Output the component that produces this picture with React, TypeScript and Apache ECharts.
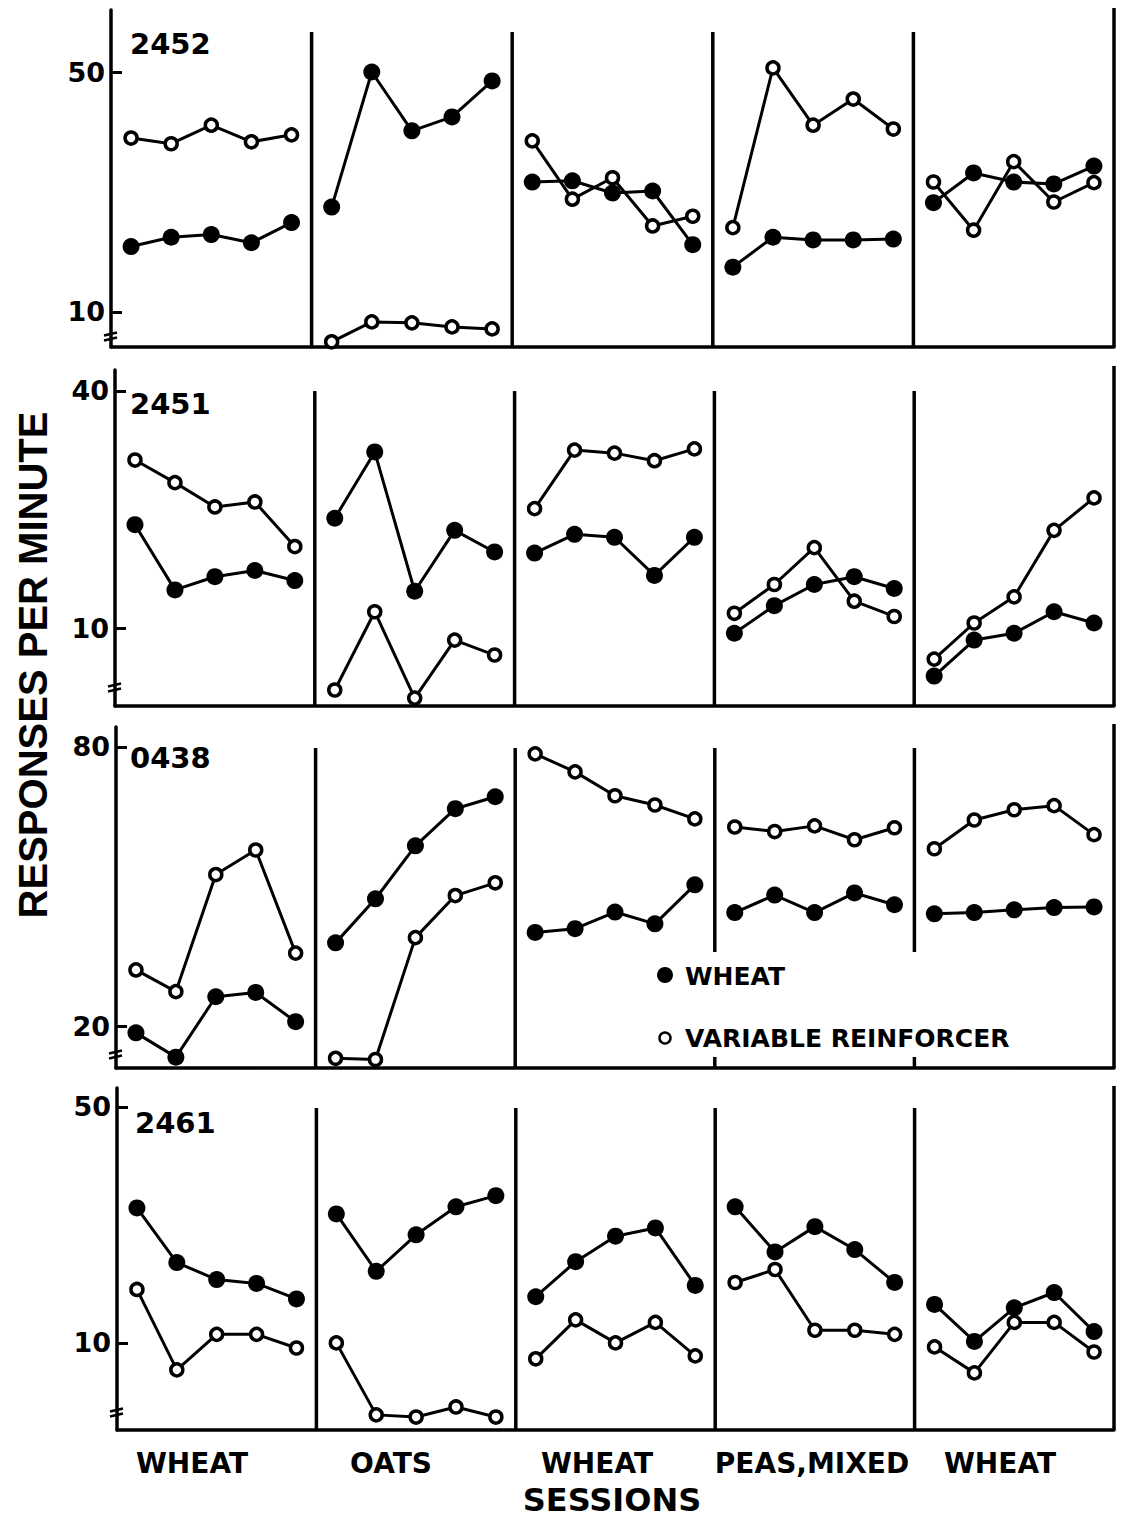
import React, { useEffect, useRef } from "react";
import * as echarts from "echarts";

// ---------- data ----------
const PHASES = ["WHEAT", "OATS", "WHEAT", "PEAS,MIXED", "WHEAT"];
const SESSIONS_PER_PHASE = 5;
const SUBJECTS = ["2452", "2451", "0438", "2461"];
const SERIES_NAMES = ["WHEAT", "VARIABLE REINFORCER"];

const WHEAT_2452 = [15.5, 16.5, 16.8, 15.9, 18.2, 20.2, 50.0, 33.7, 37.0, 47.1, 23.9, 24.1, 22.2, 22.5, 15.7, 13.5, 16.5, 16.2, 16.2, 16.3, 20.8, 25.4, 23.9, 23.6, 26.6];
const VAR_2452 = [32.1, 30.9, 35.0, 31.3, 32.8, 8.18, 9.35, 9.29, 9.04, 8.92, 31.5, 21.3, 24.6, 17.8, 19.0, 17.6, 51.4, 35.0, 41.7, 34.1, 23.9, 17.3, 27.4, 20.9, 23.8];

const WHEAT_2451 = [18.3, 12.5, 13.5, 14.0, 13.2, 19.0, 28.0, 12.4, 17.7, 15.6, 15.5, 17.3, 17.0, 13.6, 17.0, 9.7, 11.4, 12.9, 13.5, 12.6, 7.55, 9.32, 9.7, 11.0, 10.3];
const VAR_2451 = [26.7, 23.4, 20.3, 20.9, 16.1, 6.96, 11.0, 6.64, 9.32, 8.54, 20.1, 28.3, 27.8, 26.6, 28.5, 10.9, 12.9, 16.0, 11.7, 10.7, 8.34, 10.3, 12.0, 17.7, 21.4];

const WHEAT_0438 = [19.4, 17.2, 23.2, 23.7, 20.5, 30.3, 37.7, 49.0, 58.9, 62.5, 31.9, 32.5, 35.3, 33.3, 40.4, 35.2, 38.4, 35.2, 38.8, 36.6, 35.0, 35.2, 35.7, 36.1, 36.2];
const VAR_0438 = [26.5, 23.8, 42.5, 48.0, 28.8, 17.1, 17.0, 31.1, 38.3, 40.8, 77.3, 70.7, 62.8, 60.0, 56.0, 53.8, 52.6, 54.1, 50.5, 53.6, 48.3, 55.7, 58.6, 59.8, 51.8];

const WHEAT_2461 = [25.1, 17.3, 15.4, 15.0, 13.5, 24.1, 16.3, 20.9, 25.3, 27.3, 13.7, 17.4, 20.7, 21.9, 14.8, 25.3, 18.6, 22.1, 18.9, 15.1, 13.0, 10.1, 12.7, 14.1, 10.8];
const VAR_2461 = [14.4, 8.32, 10.6, 10.6, 9.66, 10.0, 6.12, 6.03, 6.46, 6.03, 8.97, 11.7, 10.0, 11.5, 9.15, 15.1, 16.5, 10.9, 10.9, 10.6, 9.73, 8.15, 11.5, 11.5, 9.4];

const Y_TICKS_2452 = [10, 50];
const Y_TICKS_2451 = [10, 40];
const Y_TICKS_0438 = [20, 80];
const Y_TICKS_2461 = [10, 50];

// ---------- layout ----------
const W = 1127;
const H = 1521;
const RIGHT_X = 1114;
const ROWS = [
  { left: 111, top: 10, bottom: 347, min: 7.9, max: 75.8, divTop: 32, edgeTop: 8, breakY: 334, idX: 130, idY: 44 },
  { left: 115, top: 370, bottom: 706, min: 6.34, max: 45.2, divTop: 391, edgeTop: 366, breakY: 685, idX: 130, idY: 404 },
  { left: 116, top: 727, bottom: 1068, min: 16.3, max: 88.3, divTop: 748, edgeTop: 724, breakY: 1052, idX: 130, idY: 758 },
  { left: 117, top: 1088, bottom: 1430, min: 5.52, max: 56.9, divTop: 1108, edgeTop: 1086, breakY: 1410, idX: 135, idY: 1123 },
];
const ROW_DATA = [
  { wheat: WHEAT_2452, variable: VAR_2452, ticks: Y_TICKS_2452 },
  { wheat: WHEAT_2451, variable: VAR_2451, ticks: Y_TICKS_2451 },
  { wheat: WHEAT_0438, variable: VAR_0438, ticks: Y_TICKS_0438 },
  { wheat: WHEAT_2461, variable: VAR_2461, ticks: Y_TICKS_2461 },
];
const PHASE_LABEL_X = [192, 391, 597, 812, 1000];
const LEGEND_GAP_TOP = 952;
const LEGEND_GAP_BOTTOM = 1057;

const BOLD = "bold";
const SANS = "Liberation Sans";
const DEJAVU = "DejaVu Sans";

function buildOption() {
  const total = PHASES.length * SESSIONS_PER_PHASE;
  const grid: any[] = [];
  const xAxis: any[] = [];
  const yAxis: any[] = [];
  const series: any[] = [];
  const graphic: any[] = [];

  ROWS.forEach((L, r) => {
    grid.push({ left: L.left, top: L.top, width: RIGHT_X - L.left, height: L.bottom - L.top });
    xAxis.push({
      type: "value", gridIndex: r, min: 0, max: total,
      axisLine: { show: true, onZero: false, lineStyle: { color: "#000", width: 3.5 } },
      axisTick: { show: false }, axisLabel: { show: false }, splitLine: { show: false },
    });
    const ticks = ROW_DATA[r].ticks;
    yAxis.push({
      type: "log", logBase: 10, gridIndex: r, min: L.min, max: L.max,
      axisLine: { show: true, onZero: false, lineStyle: { color: "#000", width: 3.5 } },
      axisTick: { show: true, inside: true, length: 11, customValues: ticks, lineStyle: { color: "#000", width: 3 } },
      axisLabel: { show: true, customValues: ticks, margin: 6, color: "#000", fontSize: 27, fontWeight: BOLD, fontFamily: DEJAVU },
      splitLine: { show: false }, minorTick: { show: false },
    });

    PHASES.forEach((_, p) => {
      const pick = (arr: number[]) =>
        arr.slice(p * SESSIONS_PER_PHASE, (p + 1) * SESSIONS_PER_PHASE).map((v, i) => [p * SESSIONS_PER_PHASE + i + 0.5, v]);
      series.push({
        type: "line", name: SERIES_NAMES[1], xAxisIndex: r, yAxisIndex: r,
        data: pick(ROW_DATA[r].variable), symbol: "circle", symbolSize: 12, z: 3,
        itemStyle: { color: "#fff", borderColor: "#000", borderWidth: 3.5 },
        lineStyle: { color: "#000", width: 3 },
      });
      series.push({
        type: "line", name: SERIES_NAMES[0], xAxisIndex: r, yAxisIndex: r,
        data: pick(ROW_DATA[r].wheat), symbol: "circle", symbolSize: 17, z: 4,
        itemStyle: { color: "#000" },
        lineStyle: { color: "#000", width: 3 },
      });
    });

    // dividers between phases
    const unit = (RIGHT_X - L.left) / total;
    for (let p = 1; p < PHASES.length; p++) {
      const x = L.left + unit * p * SESSIONS_PER_PHASE;
      const lineStyle = { stroke: "#000", lineWidth: 3.5 };
      if (r === 2 && p >= 3) {
        graphic.push({ type: "line", shape: { x1: x, y1: L.divTop, x2: x, y2: LEGEND_GAP_TOP }, style: lineStyle, silent: true });
        graphic.push({ type: "line", shape: { x1: x, y1: LEGEND_GAP_BOTTOM, x2: x, y2: L.bottom }, style: lineStyle, silent: true });
      } else {
        graphic.push({ type: "line", shape: { x1: x, y1: L.divTop, x2: x, y2: L.bottom }, style: lineStyle, silent: true });
      }
    }
    // right edge
    graphic.push({ type: "line", shape: { x1: RIGHT_X, y1: L.edgeTop, x2: RIGHT_X, y2: L.bottom }, style: { stroke: "#000", lineWidth: 3.5 }, silent: true });
    // axis break marks
    [0, 5].forEach((dy) => {
      graphic.push({
        type: "line",
        shape: { x1: L.left - 7, y1: L.breakY + dy + 1.5, x2: L.left + 6, y2: L.breakY + dy - 1.5 },
        style: { stroke: "#000", lineWidth: 2.5 }, silent: true,
      });
    });
    // subject id
    graphic.push({
      type: "text", left: L.idX, top: L.idY - 15,
      style: { text: SUBJECTS[r], fill: "#000", font: `bold 29px "${DEJAVU}"` }, silent: true,
    });
  });

  // phase labels
  PHASES.forEach((name, p) => {
    graphic.push({
      type: "text", x: PHASE_LABEL_X[p], y: 1463,
      style: { text: name, fill: "#000", font: `bold 28px "${DEJAVU}"`, align: "center", verticalAlign: "middle" }, silent: true,
    });
  });
  graphic.push({
    type: "text", x: 612, y: 1500,
    style: { text: "SESSIONS", fill: "#000", font: `bold 32px "${DEJAVU}"`, align: "center", verticalAlign: "middle" }, silent: true,
  });
  graphic.push({
    type: "text", x: 33, y: 665, rotation: Math.PI / 2,
    style: { text: "RESPONSES PER MINUTE", fill: "#000", font: `bold 40px "${SANS}"`, align: "center", verticalAlign: "middle" }, silent: true,
  });

  // legend
  graphic.push({ type: "circle", shape: { cx: 665, cy: 975, r: 8 }, style: { fill: "#000" }, silent: true });
  graphic.push({
    type: "text", x: 685, y: 976,
    style: { text: SERIES_NAMES[0], fill: "#000", font: `bold 25px "${DEJAVU}"`, align: "left", verticalAlign: "middle" }, silent: true,
  });
  graphic.push({ type: "circle", shape: { cx: 665, cy: 1038, r: 5.5 }, style: { fill: "#fff", stroke: "#000", lineWidth: 2.5 }, silent: true });
  graphic.push({
    type: "text", x: 685, y: 1038,
    style: { text: SERIES_NAMES[1], fill: "#000", font: `bold 25px "${DEJAVU}"`, align: "left", verticalAlign: "middle" }, silent: true,
  });

  return {
    animation: false,
    backgroundColor: "#fff",
    grid, xAxis, yAxis, series, graphic,
  };
}

export default function App() {
  const ref = useRef<HTMLDivElement>(null);
  useEffect(() => {
    if (!ref.current) return;
    const chart = echarts.init(ref.current, null, { renderer: "svg", width: W, height: H });
    chart.setOption(buildOption() as any);
    return () => chart.dispose();
  }, []);
  return <div ref={ref} style={{ position: "absolute", left: 0, top: 0, width: W, height: H, background: "#fff" }} />;
}
